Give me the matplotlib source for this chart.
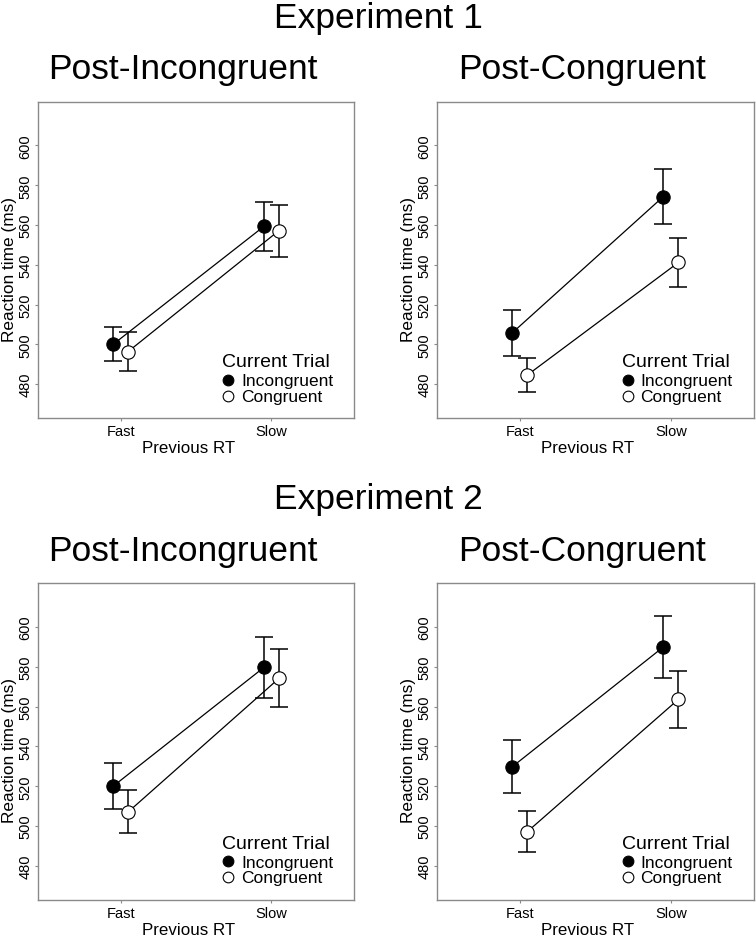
import matplotlib.pyplot as plt
import numpy as np

plt.rcParams['font.family'] = ['Liberation Sans', 'DejaVu Sans']

# values (ms), order: Fast, Slow
prev_rt = ["Fast", "Slow"]
experiments = ["Experiment 1", "Experiment 2"]
panel_titles = ["Post-Incongruent", "Post-Congruent"]
legend_title = "Current Trial"
legend_labels = ["Incongruent", "Congruent"]

exp1_post_incong_incong = [500.0, 559.3]
exp1_post_incong_incong_err = [8.5, 12.4]
exp1_post_incong_cong = [496.4, 557.2]
exp1_post_incong_cong_err = [9.8, 13.1]

exp1_post_cong_incong = [505.8, 574.3]
exp1_post_cong_incong_err = [11.5, 13.8]
exp1_post_cong_cong = [484.6, 541.2]
exp1_post_cong_cong_err = [8.7, 12.5]

exp2_post_incong_incong = [520.0, 579.7]
exp2_post_incong_incong_err = [11.5, 15.1]
exp2_post_incong_cong = [507.1, 574.2]
exp2_post_incong_cong_err = [10.8, 14.6]

exp2_post_cong_incong = [529.8, 590.0]
exp2_post_cong_incong_err = [13.3, 15.8]
exp2_post_cong_cong = [497.2, 563.7]
exp2_post_cong_cong_err = [10.3, 14.3]

panels = [
    [(exp1_post_incong_incong, exp1_post_incong_incong_err, exp1_post_incong_cong, exp1_post_incong_cong_err),
     (exp1_post_cong_incong, exp1_post_cong_incong_err, exp1_post_cong_cong, exp1_post_cong_cong_err)],
    [(exp2_post_incong_incong, exp2_post_incong_incong_err, exp2_post_incong_cong, exp2_post_incong_cong_err),
     (exp2_post_cong_incong, exp2_post_cong_incong_err, exp2_post_cong_cong, exp2_post_cong_cong_err)],
]

W, H = 756, 937
fig = plt.figure(figsize=(W / 100, H / 100), dpi=100)

# axes boxes in pixels (left, top, right, bottom)
ax_left = [37.7, 436.7]
ax_right = [354.3, 754.0]
ax_top = [102.7, 584.3]
ax_bottom = [419.0, 900.7]
exp_baseline = [28.0, 509.3]

x = np.arange(1, len(prev_rt) + 1)
dodge = 0.05
grey = "#8a8a8a"

for r in range(2):
    fig.text(0.5, 1 - exp_baseline[r] / H, experiments[r], ha="center", va="baseline", fontsize=25.5)
    for c in range(2):
        inc, inc_err, con, con_err = panels[r][c]
        ax = fig.add_axes([ax_left[c] / W, 1 - ax_bottom[r] / H,
                           (ax_right[c] - ax_left[c]) / W, (ax_bottom[r] - ax_top[r]) / H])
        ax.plot(x - dodge, inc, color="black", lw=0.9, zorder=2)
        ax.plot(x + dodge, con, color="black", lw=0.9, zorder=2)
        ax.errorbar(x - dodge, inc, yerr=inc_err, fmt="none", ecolor="black", elinewidth=1.1,
                    capsize=6.7, capthick=1.1, zorder=3)
        ax.errorbar(x + dodge, con, yerr=con_err, fmt="none", ecolor="black", elinewidth=1.1,
                    capsize=6.7, capthick=1.1, zorder=3)
        ax.plot(x - dodge, inc, "o", ms=9.6, mfc="black", mec="black", mew=0.8, zorder=4)
        ax.plot(x + dodge, con, "o", ms=9.6, mfc="white", mec="black", mew=0.8, zorder=4)

        ax.set_xlim(0.45, 2.55)
        ax.set_ylim(463, 622)
        ax.set_xticks(x)
        ax.set_xticklabels(prev_rt)
        ax.set_yticks(np.arange(480, 601, 20))
        ax.tick_params(axis="both", direction="out", length=2.5, width=0.8, color=grey,
                       labelsize=10.5, pad=2)
        ax.tick_params(axis="y", labelrotation=90, pad=1.5)
        for lab in ax.get_yticklabels():
            lab.set_va("center")
        for sp in ax.spines.values():
            sp.set_color(grey)
            sp.set_linewidth(1.0)

        ax.set_ylabel("Reaction time (ms)", fontsize=12.4)
        ax.yaxis.set_label_coords(-0.066, 0.474)
        ax.text(0.476, -0.108, "Previous RT", transform=ax.transAxes, ha="center",
                va="baseline", fontsize=12.2)
        ax.text(0.457, 1.074, panel_titles[c], transform=ax.transAxes, ha="center",
                va="baseline", fontsize=25.5)

        # legend drawn by hand to match the tight R-style spacing
        ax.text(0.583, 0.1635, legend_title, transform=ax.transAxes, ha="left",
                va="baseline", fontsize=14)
        ax.plot([0.602], [0.1213], "o", transform=ax.transAxes, ms=7.7, mfc="black",
                mec="black", mew=0.8, clip_on=False)
        ax.plot([0.602], [0.0708], "o", transform=ax.transAxes, ms=7.7, mfc="white",
                mec="black", mew=0.8, clip_on=False)
        ax.text(0.642, 0.1043, legend_labels[0], transform=ax.transAxes, ha="left",
                va="baseline", fontsize=12.5)
        ax.text(0.642, 0.0547, legend_labels[1], transform=ax.transAxes, ha="left",
                va="baseline", fontsize=12.5)

fig.savefig("out.png", dpi=100)
